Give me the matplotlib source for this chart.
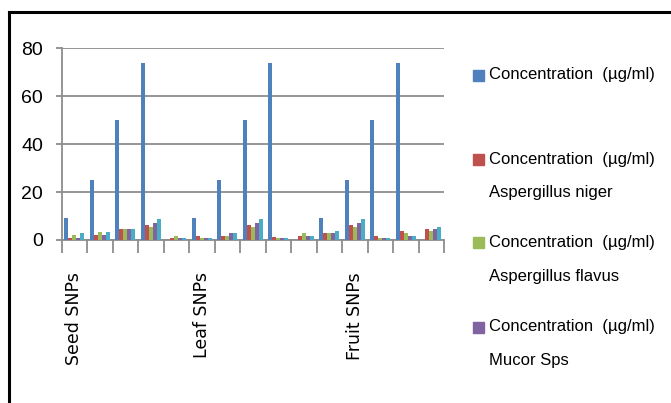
import matplotlib
matplotlib.use("Agg")
import matplotlib.pyplot as plt
import numpy as np
from matplotlib.lines import Line2D
from matplotlib.patches import Rectangle

# ---------------- data ----------------
categories = ["Seed SNPs", "", "", "", "", "Leaf SNPs", "", "", "", "", "",
              "Fruit SNPs", "", "", ""]
series_names = ["Concentration  (µg/ml)",
                "Concentration  (µg/ml)\nAspergillus niger",
                "Concentration  (µg/ml)\nAspergillus flavus",
                "Concentration  (µg/ml)\nMucor Sps"]
conc = [9, 25, 50, 74, 0, 9, 25, 50, 74, 0, 9, 25, 50, 74, 0]
niger = [1, 2, 4.5, 6.2, 1, 1.8, 1.8, 6.2, 1.1, 1.8, 2.8, 6.2, 1.8, 3.6, 4.4]
flavus = [2, 3.5, 4.5, 5.3, 1.8, 1, 1.8, 5.3, 1, 2.8, 2.8, 5.3, 1, 2.8, 3.6]
mucor = [1, 2, 4.5, 7, 1, 1, 2.8, 7, 1, 1.8, 2.8, 7.2, 1, 1.8, 4.4]
fifth = [3, 3.5, 4.5, 8.8, 1, 1, 2.8, 8.8, 1, 1.8, 3.6, 8.8, 1, 1.8, 5.3]
yticks = [0, 20, 40, 60, 80]

series = [conc, niger, flavus, mucor, fifth]
colors = ["#4F81BD", "#C0504D", "#9BBB59", "#8064A2", "#4BACC6"]

plt.rcParams["font.family"] = ["Liberation Sans", "DejaVu Sans"]

W, H = 671, 403
fig = plt.figure(figsize=(W / 100, H / 100), dpi=100)
fig.patch.set_facecolor("white")

def fx(px):
    return px / W

def fy(py):
    return 1 - py / H

left, right, top0, bot0 = 61.7, 444, 48.3, 240
ax = fig.add_axes([fx(left), fy(bot0), fx(right - left), (bot0 - top0) / H])

n = len(categories)
x = np.arange(n)
bw = 0.157
for i, (vals, c) in enumerate(zip(series, colors)):
    ax.bar(x + (i - 2) * bw, vals, width=bw, color=c, linewidth=0, zorder=3)

ax.set_xlim(-0.5, n - 0.5)
ax.set_ylim(0, 80)
ax.set_yticks(yticks)
ax.set_yticklabels([str(v) for v in yticks], fontsize=14)
grid_c = "#8c8c8c"
ax.yaxis.grid(True, color=grid_c, linewidth=1.3, zorder=0)
ax.set_axisbelow(True)
for s in ["top", "right"]:
    ax.spines[s].set_visible(False)
ax.spines["left"].set_color(grid_c)
ax.spines["left"].set_linewidth(1.3)
ax.spines["bottom"].set_color(grid_c)
ax.spines["bottom"].set_linewidth(1.3)
ax.tick_params(axis="y", length=4.5, width=1.3, color=grid_c, pad=9)

ax.set_xticks(x)
ax.set_xticklabels(categories, rotation=90, fontsize=12.5, family="DejaVu Sans")
ax.tick_params(axis="x", which="major", length=0, pad=23)
ax.set_xticks(np.arange(-0.5, n, 1.0), minor=True)
ax.tick_params(axis="x", which="minor", length=9, width=1.3, color=grid_c)

# frame lines of the original image
fig.add_artist(Line2D([fx(9), fx(9)], [fy(12), 0], color="black", linewidth=2.2))
fig.add_artist(Line2D([fx(9), 1], [fy(12), fy(12)], color="black", linewidth=2.2))

# legend (drawn by hand to match Excel layout)
entry_y = [75, 159, 242, 327]
for name, c, ly in zip(series_names, colors, entry_y):
    fig.add_artist(Rectangle((fx(473), fy(ly + 6)), fx(11), 11 / H, color=c,
                             transform=fig.transFigure))
    lines = name.split("\n")
    for k, t in enumerate(lines):
        fig.text(fx(489), fy(ly + k * 34), t, fontsize=12, va="center", ha="left")

fig.savefig("out.png", dpi=100)
